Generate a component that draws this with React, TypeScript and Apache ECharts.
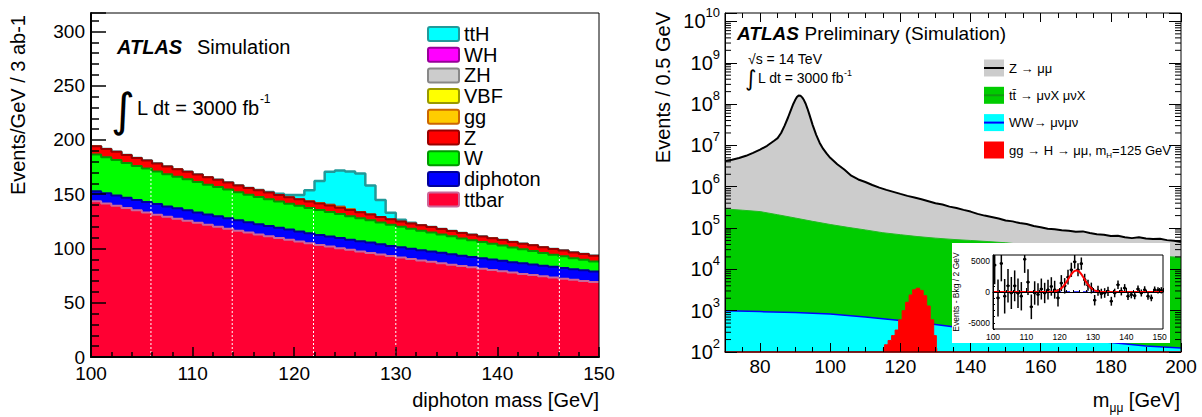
import React, { useEffect, useRef } from "react";
import * as echarts from "echarts";

const FONT = '"Liberation Sans", Arial, Helvetica, sans-serif';

// ---------------- Left panel: diphoton mass, 1 GeV bins from 100 to 150 ----------------
const diphotonBinStart = 100;
const diphotonBinWidth = 1;
const ttbarEvents = [143.5, 141.4, 139.3, 137.2, 135.2, 133.2, 131.2, 129.3, 127.4, 125.5, 123.6, 121.8, 120.0, 118.2, 116.4, 114.7, 113.0, 111.3, 109.7, 108.0, 106.4, 104.9, 103.3, 101.8, 100.3, 98.8, 97.3, 95.9, 94.4, 93.0, 91.7, 90.3, 89.0, 87.7, 86.4, 85.1, 83.8, 82.6, 81.4, 80.2, 79.0, 77.8, 76.6, 75.5, 74.4, 73.3, 72.2, 71.1, 70.1, 69.0];
const diphotonEvents = [9.3, 9.4, 9.6, 9.5, 9.4, 9.6, 9.7, 9.5, 9.6, 9.7, 9.6, 9.5, 9.7, 9.7, 9.6, 9.5, 9.4, 9.5, 9.3, 9.4, 9.3, 9.2, 9.2, 9.3, 9.4, 9.3, 9.4, 9.5, 9.4, 9.4, 9.4, 9.5, 9.4, 9.5, 9.6, 9.5, 9.4, 9.5, 9.5, 9.6, 9.7, 9.6, 9.7, 9.8, 9.7, 9.8, 9.9, 9.8, 9.9, 9.9];
const wEvents = [33.8, 33.2, 32.6, 32.0, 31.4, 30.8, 30.0, 29.6, 29.0, 28.6, 28.0, 27.5, 27.0, 26.4, 25.8, 25.4, 25.0, 24.6, 24.2, 23.9, 23.6, 23.3, 23.0, 22.6, 22.1, 21.6, 21.1, 20.6, 20.1, 19.5, 18.9, 18.4, 18.0, 17.5, 17.0, 16.6, 16.1, 15.6, 15.1, 14.6, 14.0, 13.5, 12.9, 12.4, 11.8, 11.2, 10.7, 10.1, 9.6, 9.1];
const zBkgEvents = [7.7, 7.6, 7.6, 7.5, 7.4, 7.4, 7.3, 7.2, 7.1, 7.0, 6.9, 6.8, 6.6, 6.4, 6.3, 6.2, 6.2, 6.1, 6.1, 6.0, 6.0, 6.0, 6.0, 5.9, 5.8, 5.7, 5.5, 5.3, 5.1, 5.0, 4.9, 4.9, 4.9, 5.0, 5.0, 5.0, 5.0, 5.0, 5.0, 5.1, 5.1, 5.1, 5.2, 5.2, 5.2, 5.3, 5.3, 5.3, 5.4, 5.4];
const ggEvents = [0, 0, 0, 0, 0, 0, 0, 0, 0, 0, 0, 0, 0, 0, 0, 0, 0, 0, 0, 0, 0.1, 0.3, 0.6, 0.9, 1.0, 0.9, 0.6, 0.3, 0.1, 0, 0, 0, 0, 0, 0, 0, 0, 0, 0, 0, 0, 0, 0, 0, 0, 0, 0, 0, 0, 0];
const vbfEvents = [0, 0, 0, 0, 0, 0, 0, 0, 0, 0, 0, 0, 0, 0, 0, 0, 0, 0, 0, 0, 0, 0, 0.1, 0.15, 0.2, 0.15, 0.1, 0, 0, 0, 0, 0, 0, 0, 0, 0, 0, 0, 0, 0, 0, 0, 0, 0, 0, 0, 0, 0, 0, 0];
const zhEvents = [0, 0, 0, 0, 0, 0, 0, 0, 0, 0, 0, 0, 0, 0, 0, 0, 0, 0, 0, 0, 0, 0, 0, 0.05, 0.08, 0.05, 0, 0, 0, 0, 0, 0, 0, 0, 0, 0, 0, 0, 0, 0, 0, 0, 0, 0, 0, 0, 0, 0, 0, 0];
const whEvents = [0, 0, 0, 0, 0, 0, 0, 0, 0, 0, 0, 0, 0, 0, 0, 0, 0, 0, 0, 0, 0, 0, 0, 0.05, 0.08, 0.05, 0, 0, 0, 0, 0, 0, 0, 0, 0, 0, 0, 0, 0, 0, 0, 0, 0, 0, 0, 0, 0, 0, 0, 0];
const tthEvents = [0, 0, 0, 0, 0, 0, 0, 0, 0, 0, 0, 0, 0, 0, 0, 0, 0.2, 0.5, 1.2, 2.0, 3.8, 10, 20, 30, 33, 34.5, 35, 26.5, 15.5, 6, 1.5, 0.6, 0.2, 0, 0, 0, 0, 0, 0, 0, 0, 0, 0, 0, 0, 0, 0, 0, 0, 0];
const gapMasses = [105.9, 113.9, 121.9, 130.0, 138.1, 146.1];

// ---------------- Right panel: m_mumu ----------------
const zMass = [70, 72, 74, 76, 78, 80, 82, 84, 85, 86, 87, 88, 88.5, 89, 89.5, 90, 90.5, 91, 91.5, 92, 92.5, 93, 93.5, 94, 95, 96, 97, 98, 99, 100, 102, 104, 106, 108, 110, 112, 114, 116, 118, 120, 122, 124, 126, 128, 130, 132, 134, 136, 138, 140, 142, 144, 146, 148, 150, 152, 154, 156, 158, 160, 162, 164, 166, 168, 170, 172, 174, 176, 178, 180, 182, 184, 186, 188, 190, 192, 194, 196, 198, 200];
const zEvents = [4.2e6, 4.5e6, 4.95e6, 5.6e6, 6.6e6, 7.9e6, 9.8e6, 1.3e7, 1.5e7, 2.0e7, 3.0e7, 4.8e7, 6.2e7, 8.0e7, 1.02e8, 1.25e8, 1.48e8, 1.62e8, 1.6e8, 1.45e8, 1.25e8, 1.02e8, 7.8e7, 5.8e7, 3.1e7, 1.8e7, 1.15e7, 8.2e6, 6.3e6, 5.0e6, 3.5e6, 2.6e6, 1.85e6, 1.5e6, 1.3e6, 1.1e6, 9.5e5, 8.4e5, 7.5e5, 6.7e5, 6.0e5, 5.5e5, 4.95e5, 4.45e5, 4.0e5, 3.7e5, 3.3e5, 3.05e5, 2.75e5, 2.5e5, 2.2e5, 2.0e5, 1.85e5, 1.7e5, 1.52e5, 1.45e5, 1.32e5, 1.25e5, 1.12e5, 1.05e5, 9.6e4, 9.3e4, 8.8e4, 8.6e4, 8.1e4, 8.3e4, 7.6e4, 7.1e4, 6.9e4, 6.4e4, 6.5e4, 6.0e4, 5.7e4, 6.0e4, 5.6e4, 5.4e4, 5.5e4, 5.1e4, 4.9e4, 4.6e4];
const ttMass = [70, 75, 80, 85, 90, 95, 100, 105, 110, 115, 120, 125, 130, 135, 140, 145, 150, 155, 160, 165, 170, 175, 180, 185, 190, 195, 200];
const ttEvents = [2.9e5, 2.7e5, 2.5e5, 2.1e5, 1.75e5, 1.45e5, 1.22e5, 1.04e5, 9.0e4, 7.7e4, 6.9e4, 6.2e4, 5.7e4, 5.3e4, 5.0e4, 4.7e4, 4.4e4, 4.0e4, 3.6e4, 3.3e4, 3.0e4, 2.8e4, 2.6e4, 2.4e4, 2.2e4, 2.05e4, 1.95e4];
const wwMass = [70, 80, 90, 100, 110, 120, 130, 140, 150, 160, 170, 180, 190, 200];
const wwEvents = [1000, 950, 900, 830, 700, 575, 460, 360, 290, 235, 200, 170, 140, 125];
const sigMass = [115, 116, 117, 118, 119, 120, 121, 122, 123, 124, 125, 126, 127, 128, 129, 130, 130.5];
const sigEvents = [120, 150, 190, 250, 340, 600, 1000, 1600, 2400, 3200, 3500, 3100, 2300, 1300, 600, 250, 120];

// ---------------- Inset: events minus background ----------------
const insetMass = [100.5, 101.5, 102.5, 103.5, 104.5, 105.5, 106.5, 107.5, 108.5, 109.5, 110.5, 111.5, 112.5, 113.5, 114.5, 115.5, 116.5, 117.5, 118.5, 119.5, 120.5, 121.5, 122.5, 123.5, 124.5, 125.5, 126.5, 127.5, 128.5, 129.5, 130.5, 131.5, 132.5, 133.5, 134.5, 135.5, 136.5, 137.5, 138.5, 139.5, 140.5, 141.5, 142.5, 143.5, 144.5, 145.5, 146.5, 147.5, 148.5, 149.5, 150.5];
const insetExcess = [4360, -960, 4630, -690, 1010, -160, 1000, -200, -690, 5300, 1600, -2400, -160, -400, 480, -160, 370, 900, 370, -960, 1440, 1000, 2400, 3600, 4900, 3600, 4600, 2000, 1100, 640, -1330, 200, -270, -160, 100, -1500, -160, 1170, 100, 640, -690, -430, -590, 480, -160, 370, -690, -960, 370, 270, 270];
const insetError = [3100, 3000, 2900, 2800, 2700, 2600, 2500, 2400, 2300, 2200, 2100, 2000, 1900, 1800, 1700, 1650, 1600, 1500, 1450, 1400, 1300, 1250, 1200, 1150, 1100, 1050, 1000, 950, 900, 880, 850, 820, 800, 780, 750, 720, 700, 680, 660, 640, 620, 600, 590, 580, 570, 560, 550, 540, 530, 520, 510];
const fitMass = [100, 116, 117, 118, 119, 120, 121, 122, 123, 124, 125, 126, 127, 128, 129, 130, 131, 132, 133, 134, 151];
const fitEvents = [0, 3, 14, 50, 153, 400, 873, 1600, 2470, 3210, 3500, 3210, 2470, 1600, 873, 400, 153, 50, 14, 3, 0];
const bkgMass = [100, 151];
const bkgLevel = [0, 0];

const zip = (xs: number[], ys: number[]) => xs.map((x, i) => [x, ys[i]]);

function histPoints(vals: number[]) {
  const pts = vals.map((v, i) => [diphotonBinStart + i * diphotonBinWidth, v]);
  pts.push([diphotonBinStart + vals.length * diphotonBinWidth, vals[vals.length - 1]]);
  return pts;
}

const leftStack = [
  { name: "ttbar", values: ttbarEvents, fill: "#ff0033", line: "#cc6699", width: 2 },
  { name: "diphoton", values: diphotonEvents, fill: "#0000ff", line: "#000099", width: 2 },
  { name: "W", values: wEvents, fill: "#00ff00", line: "#009900", width: 2 },
  { name: "Z", values: zBkgEvents, fill: "#ff0000", line: "#990000", width: 2 },
  { name: "gg", values: ggEvents, fill: "#ffcc00", line: "#cc6600", width: 1 },
  { name: "VBF", values: vbfEvents, fill: "#ffff00", line: "#999900", width: 1 },
  { name: "ZH", values: zhEvents, fill: "#cccccc", line: "#888888", width: 1 },
  { name: "WH", values: whEvents, fill: "#ff00ff", line: "#990099", width: 1 },
  { name: "ttH", values: tthEvents, fill: "#00ffff", line: "#229999", width: 2.5 },
];

// cumulative stack (as THStack draws it)
const cumulative: number[][] = [];
leftStack.forEach((s, i) => {
  cumulative.push(s.values.map((v, k) => v + (i > 0 ? cumulative[i - 1][k] : 0)));
});

// log-axis minor tick positions (2..9 x 10^n)
const logMinorTicks: number[] = [];
for (let e = 2; e <= 10; e++) for (let k = 2; k <= 9; k++) {
  const v = k * Math.pow(10, e);
  if (v <= 1.6e10) logMinorTicks.push(v);
}

function buildOption() {
  const black = "#000";
  const txt = (x: number, y: number, style: any, extra: any = {}) => ({
    type: "text", x, y, z: 40, silent: true,
    style: { fill: black, fontFamily: FONT, fontSize: 20, verticalAlign: "middle", ...style },
    ...extra,
  });

  const graphics: any[] = [];
  // Left panel texts
  graphics.push(txt(18, 15, { text: "Events/GeV / 3 ab-1", align: "right" }, { rotation: Math.PI / 2 }));
  graphics.push(txt(599, 400, { text: "diphoton mass [GeV]", align: "right" }));
  graphics.push(txt(117, 47, { text: "ATLAS", fontWeight: "bold", fontStyle: "italic" }));
  graphics.push(txt(197, 47, { text: "Simulation" }));
  graphics.push(txt(111, 110, { text: "∫", fontSize: 46, fontFamily: "DejaVu Sans" }));
  graphics.push(txt(137, 108, {
    text: "{m|L dt = 3000 fb}{s|-1}",
    rich: { m: { fontSize: 20, fontFamily: FONT, lineHeight: 30 }, s: { fontSize: 12, fontFamily: FONT, verticalAlign: "top", lineHeight: 14 } },
  }));
  // Left legend (top to bottom)
  const legendRows = [...leftStack].reverse();
  legendRows.forEach((s, i) => {
    const y = 34 + i * 20.7;
    graphics.push({ type: "rect", z: 40, silent: true, shape: { x: 428, y: y - 7, width: 31, height: 14, r: 2 }, style: { fill: s.fill, stroke: s.line, lineWidth: 2 } });
    graphics.push(txt(464, y, { text: s.name }));
  });

  // Right panel texts
  graphics.push(txt(663, 12, { text: "Events / 0.5 GeV", align: "right" }, { rotation: Math.PI / 2 }));
  graphics.push(txt(1180, 400, {
    text: "{m|m}{s|μμ}{m| [GeV]}", align: "right",
    rich: { m: { fontSize: 20, fontFamily: FONT, lineHeight: 28 }, s: { fontSize: 12, fontFamily: FONT, verticalAlign: "bottom", lineHeight: 14 } },
  }));
  graphics.push(txt(737, 33, {
    text: "{a|ATLAS} {b|Preliminary (Simulation)}",
    rich: { a: { fontSize: 19, fontFamily: FONT, fontWeight: "bold", fontStyle: "italic" }, b: { fontSize: 19, fontFamily: FONT } },
  }));
  graphics.push(txt(748, 59, { text: "√s = 14 TeV", fontSize: 14 }));
  graphics.push(txt(745, 78, { text: "∫", fontSize: 22, fontFamily: "DejaVu Sans" }));
  graphics.push(txt(758, 78, {
    text: "{m|L dt = 3000 fb}{s|-1}",
    rich: { m: { fontSize: 14, fontFamily: FONT, lineHeight: 20 }, s: { fontSize: 9, fontFamily: FONT, verticalAlign: "top", lineHeight: 10 } },
  }));
  const rLegend = [
    { y: 68, fill: "#cccccc", line: "#000", text: "{t|Z → μμ}" },
    { y: 95.3, fill: "#00cc00", line: "#119911", text: "{t|tt\u0304 → μνX μνX}" },
    { y: 122.6, fill: "#00ffff", line: "#0000ff", text: "{t|WW→ μνμν}" },
    { y: 150, fill: "#ff0000", line: "", text: "{t|gg → H → μμ, m}{s|H}{t|=125 GeV}" },
  ];
  rLegend.forEach((r) => {
    graphics.push({ type: "rect", z: 40, silent: true, shape: { x: 984, y: r.y - 8.5, width: 20, height: 17 }, style: { fill: r.fill } });
    if (r.line) graphics.push({ type: "line", z: 41, silent: true, shape: { x1: 984, y1: r.y, x2: 1004, y2: r.y }, style: { stroke: r.line, lineWidth: 2 } });
    graphics.push(txt(1009, r.y, {
      text: r.text,
      rich: { t: { fontSize: 13, fontFamily: FONT, lineHeight: 18 }, s: { fontSize: 8, fontFamily: FONT, verticalAlign: "bottom", lineHeight: 10 } },
    }));
  });

  // Inset background and y title
  graphics.push({ type: "rect", z: 15, silent: true, shape: { x: 952, y: 243, width: 218, height: 100 }, style: { fill: "#ffffff" } });
  graphics.push(txt(956, 292, { text: "Events - Bkg / 2 GeV", fontSize: 8.5, align: "center" }, { rotation: Math.PI / 2 }));

  const axisLbl = (size: number, margin: number, extra: any = {}) => ({ color: black, fontFamily: FONT, fontSize: size, margin, ...extra });

  const leftSeries = leftStack.map((s, i) => ({
    type: "line", name: s.name, xAxisIndex: 0, yAxisIndex: 0, step: "end", symbol: "none",
    silent: true, z: 9 - i * 0.5,
    data: histPoints(cumulative[i]),
    lineStyle: { color: s.line, width: s.width },
    areaStyle: { color: s.fill, opacity: 1, origin: "start" },
  }));

  const gapData = gapMasses.map((m) => {
    const k = Math.floor((m - diphotonBinStart) / diphotonBinWidth);
    return [m, cumulative[2][k]];
  });

  const option: any = {
    animation: false,
    backgroundColor: "#ffffff",
    textStyle: { fontFamily: FONT },
    grid: [
      { left: 91, top: 13, width: 508, height: 344, show: true, borderColor: black, borderWidth: 1, z: 10 },
      { left: 725, top: 13, width: 456, height: 339, show: true, borderColor: black, borderWidth: 1, z: 10 },
      { left: 993, top: 255, width: 170, height: 74, show: true, borderColor: black, borderWidth: 1, z: 30 },
    ],
    xAxis: [
      {
        gridIndex: 0, type: "value", min: 100, max: 150, interval: 10, z: 10,
        axisLine: { lineStyle: { color: black, width: 2 } },
        axisTick: { inside: true, length: 10, lineStyle: { color: black, width: 1.5 } },
        minorTick: { show: true, splitNumber: 5, length: 5, lineStyle: { color: black, width: 1.5 } },
        splitLine: { show: false },
        axisLabel: axisLbl(19, 7),
      },
      {
        gridIndex: 1, type: "value", min: 70, max: 200, splitNumber: 7, z: 10,
        axisLine: { lineStyle: { color: "#800000", width: 1.5 } },
        axisTick: { inside: true, length: 9, lineStyle: { color: black, width: 1 } },
        minorTick: { show: true, splitNumber: 4, length: 5, lineStyle: { color: black, width: 1 } },
        splitLine: { show: false },
        axisLabel: axisLbl(19, 5, { showMinLabel: false }),
      },
      {
        gridIndex: 1, type: "value", position: "top", min: 70, max: 200, splitNumber: 7, z: 10,
        axisLine: { show: false },
        axisTick: { inside: true, length: 9, lineStyle: { color: black, width: 1 } },
        minorTick: { show: true, splitNumber: 4, length: 5, lineStyle: { color: black, width: 1 } },
        splitLine: { show: false },
        axisLabel: { show: false },
      },
      {
        gridIndex: 2, type: "value", min: 100, max: 151, interval: 10, z: 30,
        axisLine: { lineStyle: { color: black, width: 1 } },
        axisTick: { inside: true, length: 4, lineStyle: { color: black, width: 1 } },
        minorTick: { show: true, splitNumber: 5, length: 2, lineStyle: { color: black, width: 1 } },
        splitLine: { show: false },
        axisLabel: axisLbl(8.5, 3, { showMaxLabel: false }),
      },
    ],
    yAxis: [
      {
        gridIndex: 0, type: "value", min: 0, max: 317, interval: 50, z: 10,
        axisLine: { lineStyle: { color: black, width: 2 } },
        axisTick: { inside: true, length: 15, lineStyle: { color: black, width: 1.5 } },
        minorTick: { show: true, splitNumber: 5, length: 8, lineStyle: { color: black, width: 1.5 } },
        splitLine: { show: false },
        axisLabel: axisLbl(19, 6, { showMaxLabel: false }),
      },
      {
        gridIndex: 1, type: "log", logBase: 10, min: 100, max: 1.6e10, z: 10,
        axisLine: { lineStyle: { color: black, width: 1 } },
        axisTick: { inside: true, length: 12, lineStyle: { color: black, width: 1 } },
        splitLine: { show: false },
        axisLabel: axisLbl(20, 5, {
          formatter: (v: number) => {
            const l = Math.log10(v);
            const e = Math.round(l);
            if (Math.abs(l - e) > 1e-6) return "";
            return "{b|10}{s|" + e + "}";
          },
          rich: {
            b: { fontSize: 20, fontFamily: FONT, color: black, lineHeight: 30 },
            s: { fontSize: 13, fontFamily: FONT, color: black, verticalAlign: "top", lineHeight: 15 },
          },
        }),
      },
      {
        gridIndex: 1, type: "log", logBase: 10, min: 100, max: 1.6e10, position: "right", z: 10,
        axisLine: { show: false },
        axisTick: { inside: true, length: 12, lineStyle: { color: black, width: 1 } },
        splitLine: { show: false },
        axisLabel: { show: false },
      },
      {
        gridIndex: 2, type: "value", min: -6000, max: 6000, interval: 1000, z: 30,
        axisLine: { lineStyle: { color: black, width: 1 } },
        axisTick: { inside: true, length: 2, lineStyle: { color: black, width: 1 } },
        splitLine: { show: false },
        axisLabel: axisLbl(8.5, 3, { formatter: (v: number) => (v % 5000 === 0 ? String(v) : "") }),
      },
    ],
    graphic: graphics,
    series: [
      ...leftSeries,
      {
        type: "custom", xAxisIndex: 0, yAxisIndex: 0, z: 9.5, silent: true,
        data: gapData,
        renderItem: (_p: any, api: any) => {
          const m = api.value(0);
          const top = api.value(1);
          const a = api.coord([m, 0]);
          const b = api.coord([m, top]);
          return { type: "line", shape: { x1: a[0], y1: a[1], x2: b[0], y2: b[1] }, style: { stroke: "#ffffff", lineWidth: 1, lineDash: [2, 2] } };
        },
      },
      {
        type: "line", xAxisIndex: 1, yAxisIndex: 1, symbol: "none", silent: true, z: 2,
        data: zip(zMass, zEvents),
        lineStyle: { color: black, width: 2 },
        areaStyle: { color: "#cccccc", opacity: 1, origin: "start" },
      },
      {
        type: "line", xAxisIndex: 1, yAxisIndex: 1, symbol: "none", silent: true, z: 3,
        data: zip(ttMass, ttEvents),
        lineStyle: { color: "#22bb22", width: 1 },
        areaStyle: { color: "#00cc00", opacity: 1, origin: "start" },
      },
      {
        type: "line", xAxisIndex: 1, yAxisIndex: 1, symbol: "none", silent: true, z: 4,
        data: zip(wwMass, wwEvents),
        lineStyle: { color: "#0000ff", width: 1.5 },
        areaStyle: { color: "#00ffff", opacity: 1, origin: "start" },
      },
      {
        type: "line", xAxisIndex: 1, yAxisIndex: 1, symbol: "none", silent: true, z: 5, step: "middle",
        data: zip(sigMass, sigEvents),
        lineStyle: { color: "#ff0000", width: 1 },
        areaStyle: { color: "#ff0000", opacity: 1, origin: "start" },
      },
      {
        type: "custom", xAxisIndex: 1, yAxisIndex: 1, z: 9, silent: true,
        data: logMinorTicks.map((v) => [70, v]),
        renderItem: (_p: any, api: any) => {
          const v = api.value(1);
          const l = api.coord([70, v]);
          const r = api.coord([200, v]);
          return {
            type: "group",
            children: [
              { type: "line", shape: { x1: l[0], y1: l[1], x2: l[0] + 6, y2: l[1] }, style: { stroke: black, lineWidth: 1 } },
              { type: "line", shape: { x1: r[0] - 6, y1: r[1], x2: r[0], y2: r[1] }, style: { stroke: black, lineWidth: 1 } },
            ],
          };
        },
      },
      {
        type: "line", xAxisIndex: 3, yAxisIndex: 3, symbol: "none", silent: true, z: 21,
        data: zip(bkgMass, bkgLevel),
        lineStyle: { color: "#0000ff", width: 1.5, type: [5, 4] },
      },
      {
        type: "custom", xAxisIndex: 3, yAxisIndex: 3, z: 22, silent: true, clip: true,
        data: insetMass.map((m, i) => [m, insetExcess[i], insetError[i]]),
        renderItem: (_p: any, api: any) => {
          const m = api.value(0);
          const v = api.value(1);
          const e = api.value(2);
          const c = api.coord([m, v]);
          const t = api.coord([m, v + e]);
          const b = api.coord([m, v - e]);
          const l = api.coord([m - 0.5, v]);
          const r = api.coord([m + 0.5, v]);
          return {
            type: "group",
            children: [
              { type: "line", shape: { x1: t[0], y1: t[1], x2: b[0], y2: b[1] }, style: { stroke: black, lineWidth: 1.5 } },
              { type: "line", shape: { x1: l[0], y1: l[1], x2: r[0], y2: r[1] }, style: { stroke: black, lineWidth: 1.5 } },
              { type: "circle", shape: { cx: c[0], cy: c[1], r: 1.5 }, style: { fill: black } },
            ],
          };
        },
      },
      {
        type: "line", xAxisIndex: 3, yAxisIndex: 3, symbol: "none", silent: true, z: 23, smooth: true,
        data: zip(fitMass, fitEvents),
        lineStyle: { color: "#ff0000", width: 2 },
      },
    ],
  };
  return option;
}

export default function App() {
  const ref = useRef<HTMLDivElement>(null);
  useEffect(() => {
    if (!ref.current) return;
    const chart = echarts.init(ref.current, undefined, { renderer: "svg" });
    chart.setOption(buildOption());
    return () => chart.dispose();
  }, []);
  return (
    <div
      ref={ref}
      style={{ position: "fixed", left: 0, top: 0, width: 1202, height: 417, background: "#fff" }}
    />
  );
}
